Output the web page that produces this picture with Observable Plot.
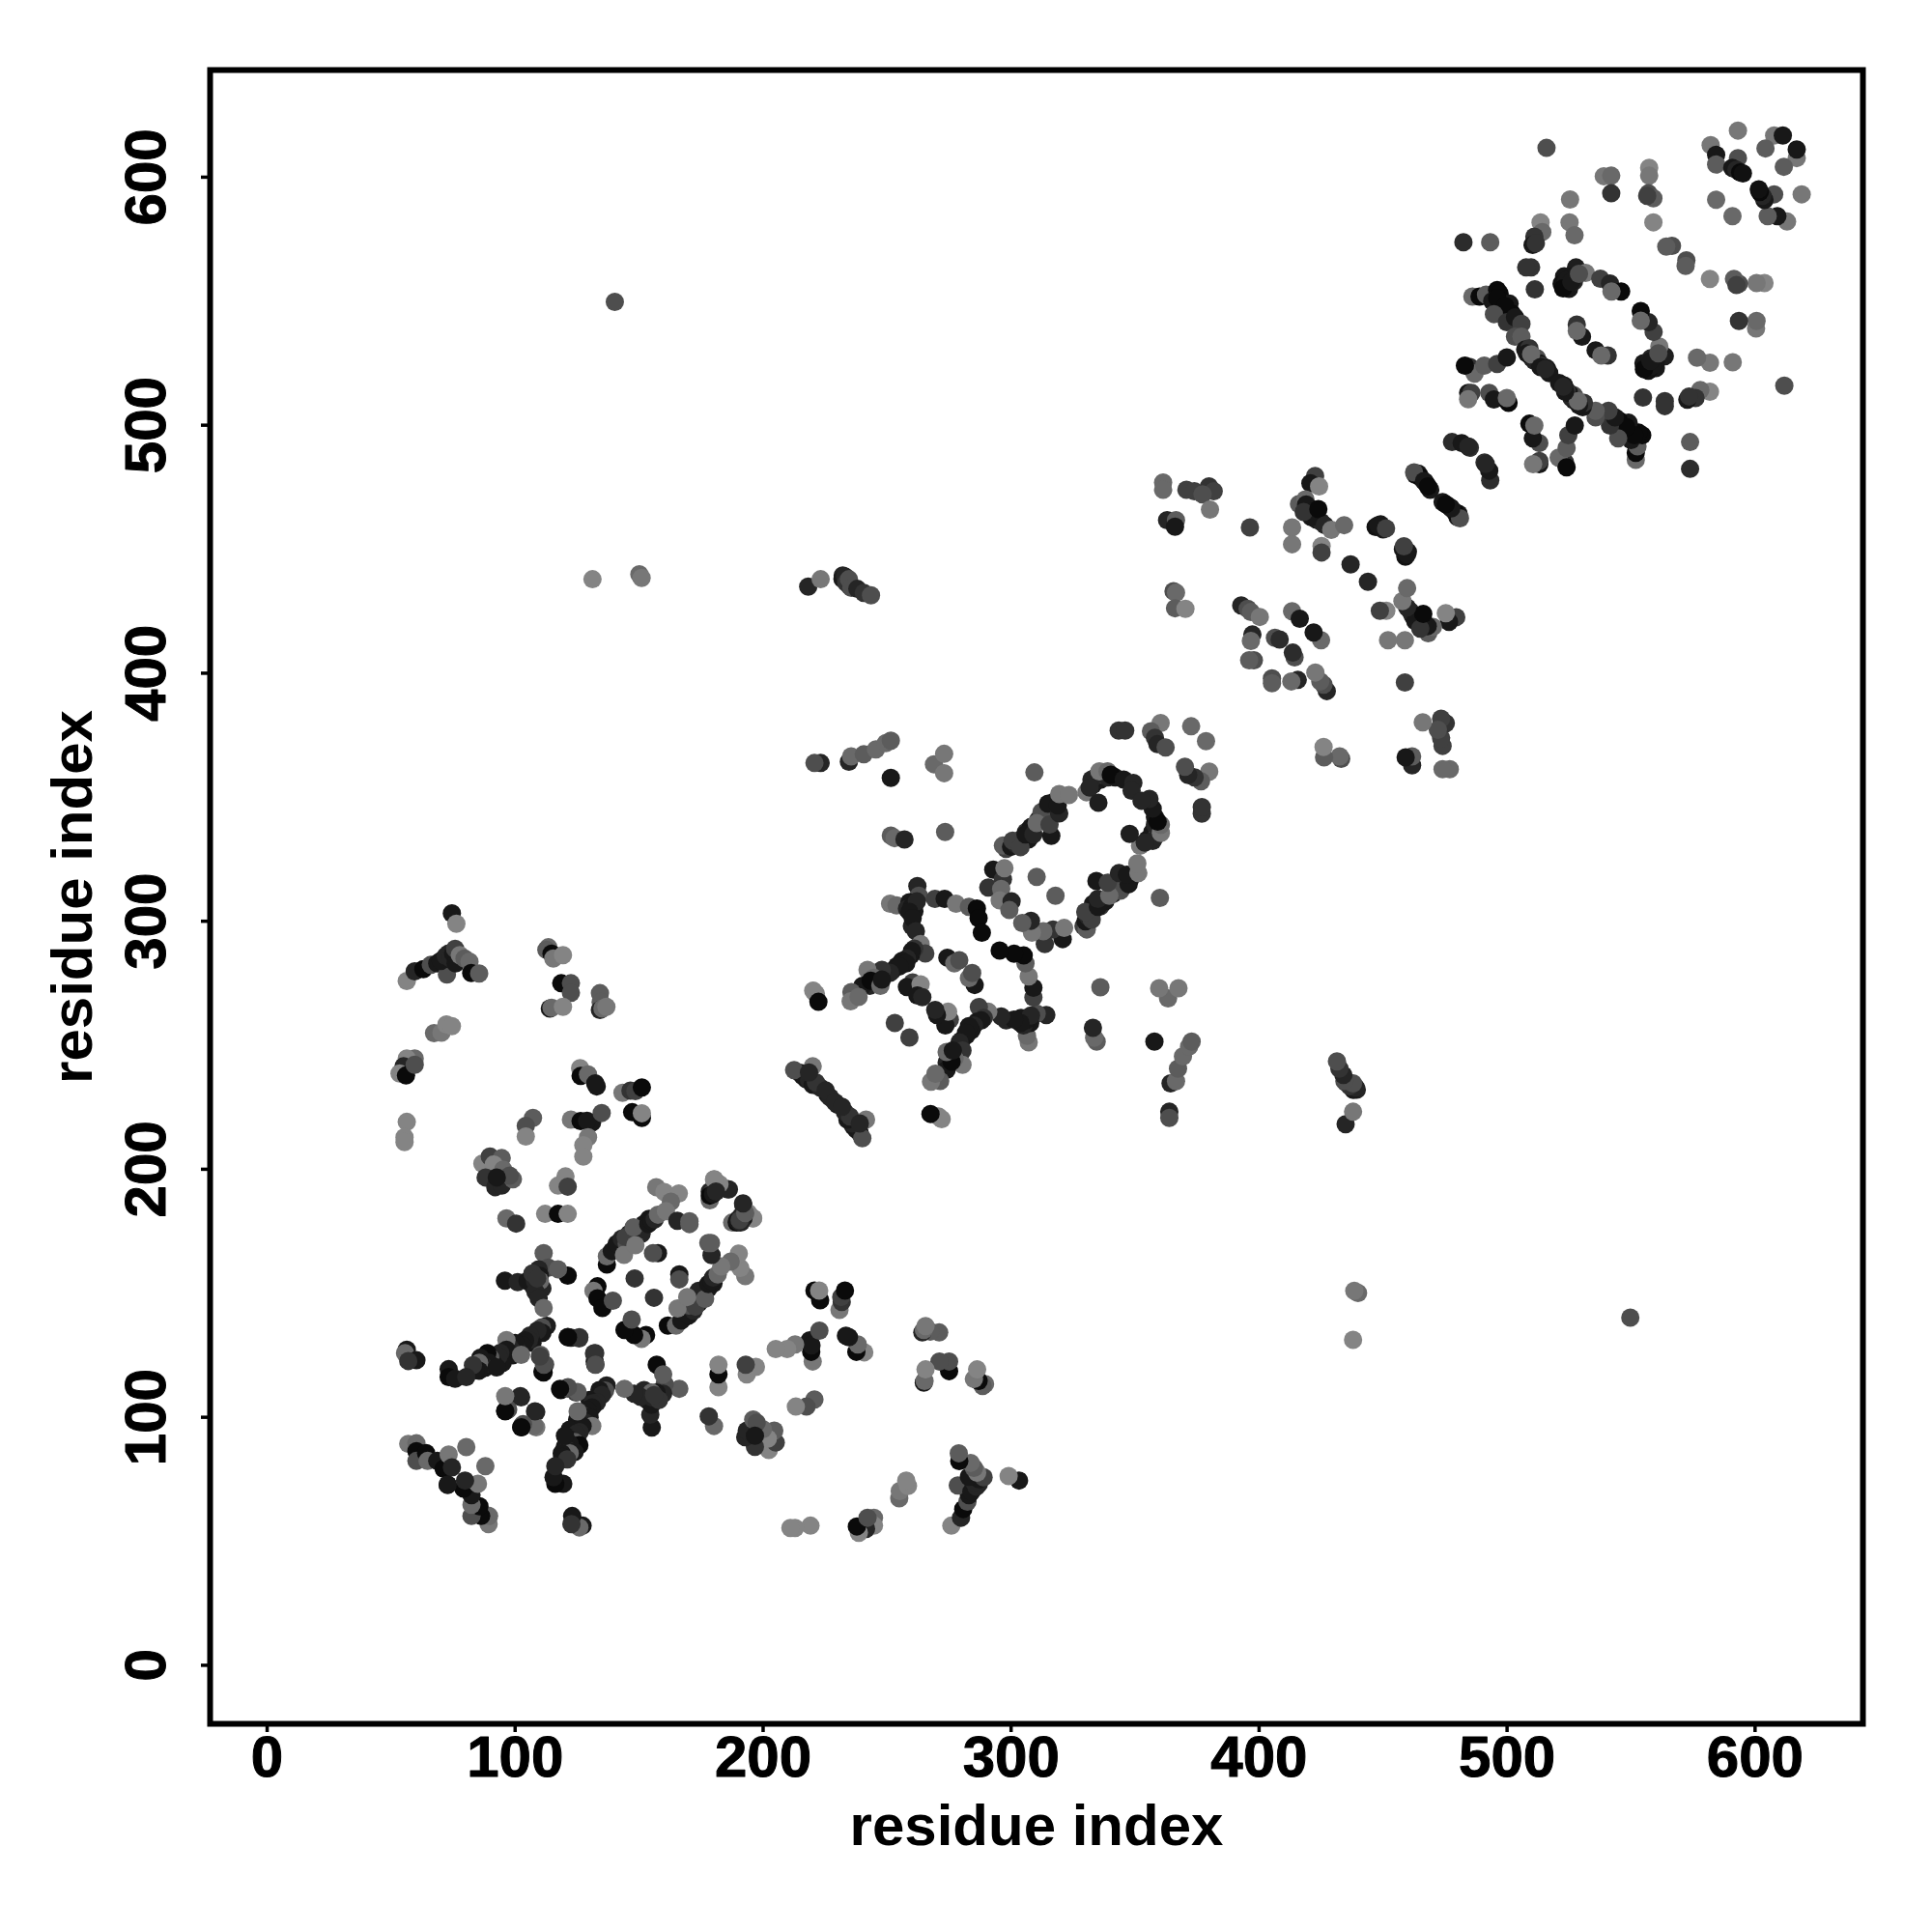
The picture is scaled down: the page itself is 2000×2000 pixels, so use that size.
<!DOCTYPE html>
<html><head><meta charset="utf-8">
<script src="https://cdn.jsdelivr.net/npm/d3@7"></script>
<script src="https://cdn.jsdelivr.net/npm/@observablehq/plot@0.6"></script>
<style>html,body{margin:0;padding:0;background:#fff}svg{display:block}</style>
</head><body><div id="chart"></div>
<script>
// Contacts [residue i, residue j, shade 0 (dark) .. 1 (light)]; the map is symmetric.
const helixA=[[74.5,303.2,.1],[76.3,299,.9],[56.3,275.9,.9],[59.5,279.8,.2],[63,280.7,0],[66,282.4,.5],[68.6,283,.1],[71.9,285,.1],[73.2,287,.2],[72.5,278.5,.5],[75,284,.2],[70,284,.1],[72,286,.2],[74,285,.2],[75,287,.1],[76,283,.1],[75.8,288.9,.4],[77.7,286.3,.8],[79.6,285,.6],[81.6,283.7,.7],[82.3,279.1,0],[85.5,278.9,.6]];
const blockB=[[113.4,289.5,.7],[112.6,288.5,.6],[114.7,286.9,0],[115.4,285,.8],[119.3,286.3,.9],[118.6,275,0],[122.5,275,.5],[122.5,271.1,.5],[114,264.8,.1],[114.7,265.1,.7],[119.3,265.5,.9],[134.2,271,.6],[134.5,267.4,.6],[134.2,264.2,.2],[135.2,264.8,.7],[136.8,265.5,.8]];
const blockC=[[67.3,254.9,.7],[70.3,255.1,.8],[72.3,258.4,.9],[74.5,257.7,.9],[59.5,244.7,.7],[56.3,244.7,.9],[55,241.5,.2],[53.4,238.6,.9],[56,237.8,0],[59.5,242.1,.5],[56.3,219.1,.9],[55.4,212.9,.9],[55.4,211,.9]];
const blockD=[[126.2,240.8,.9],[126.4,237.6,0],[129.4,238.2,.7],[132.3,234.6,.1],[132.9,233.4,.1],[143.3,230.8,.8],[146.5,231.7,.3],[148.5,231.5,.4],[151.1,233,0],[147.2,223,0],[151.1,220.7,0],[151.1,222.6,.9]];
const blockE=[[107.2,220.7,.6],[104.3,217.5,.5],[104.3,213.2,.9],[122.5,220,.8],[126.4,219.4,0],[131,218.8,.1],[129,219.5,.1],[134.9,222.7,.5],[129.4,212.9,.8],[127.5,209.7,.9],[127.5,205.1,.9],[86.8,202.3,.9],[89.8,205.1,.4],[94.6,204.5,.6],[91.4,201.9,.9],[95.2,199.9,.7],[88.1,196.7,.3],[92,192.8,.2],[94.6,193.4,.2],[99.1,196,.6],[97.8,197.4,.5],[92.6,196.7,.1],[117.3,193.4,.9],[120.3,197.1,.9],[121.2,193,.4],[96.5,180.2,.7],[100.4,178.1,.3],[112.1,182,.9],[117.3,182,0],[121.2,182,.9]];
const ringF=[[137,161.6,0],[137,164.9,.7],[140.7,168.8,0],[139,167,.1],[141,170,.1],[143,172,.2],[146,174,.1],[150,176,.3],[152,178,.1],[154,180,.1],[145,170,.5],[151,174,.2],[143.9,165.5,.8],[144.6,172.7,.4],[147.8,176.6,.6],[148.5,169.4,.8],[153.7,177.9,.1],[155,179.2,.1],[156.3,179.8,.2],[157.6,181.7,.7],[156.9,192.8,.8],[160.2,190.8,.9],[166,190.2,.9],[162.8,186.9,.7],[160.8,183.1,.8],[165.4,179.2,.2],[170.3,177.9,.6],[170.3,179,.6],[180.3,196,.9],[179,189.5,.1],[180.3,192.1,.1],[178.5,191,.2],[179.5,190.5,.4],[182.3,192.8,.6],[186.2,191.9,.2],[192,185.6,.2],[194,182.4,.9],[195.9,180.2,.9],[187.5,178.5,.7],[189.4,178.5,0],[190,179.8,.1],[191,181,.2],[157.6,166.2,.1],[155.6,166.2,.5],[148.2,156,.3],[133.2,152.8,0],[131.6,151,.8],[133.2,148,0],[135.2,144.1,0],[139.4,147,.5]];
const armG=[[121.2,157.1,0],[111.5,166.2,.6],[113.4,160.3,.5],[109.5,159.7,.2],[117.3,159.7,.6],[95.9,155.1,.1],[101,154.5,.2],[107,153.2,.2],[105,155,.1],[108,155,.2],[110,157,.1],[107,158,.3],[111,152,.2],[110,155,.7],[108.2,150.6,.2],[109.5,148,.2],[111.5,144.1,.7],[108.9,156,.3],[112.8,136.9,.15],[110.8,136.3,.5],[108.2,133.7,.1],[111,134,.1],[109,135,.2],[107,130,.1],[106,133,.2],[105.6,131.1,.2],[104,131,.1],[103,129.1,.1],[101,127,.2],[100,130,.1],[99,125,.1],[98,128,.2],[96.5,131.1,.8],[96.5,127.2,.1],[102.4,125.2,.7],[95,122,.1],[94,126,.2],[93.3,124.6,.2],[91,122,.1],[90,124,.6],[88.8,125.9,0],[89.4,122,.1],[88,120,.1],[87,121,.2],[86,124,.1],[85.5,122,.7],[85.5,118.8,.1],[84,119,.1],[83,121,.3],[92.6,120.1,.1],[73.2,119.4,.1],[73.2,116.2,0],[75.8,115.5,.1],[80.3,116.2,.2],[56.3,127.2,.1],[55.6,125.9,.7],[60.2,123,.1],[56.9,122.7,.3],[110.2,125.2,.6],[112.1,121.3,.5],[111.5,118.1,0],[122.5,132.1,.1],[125.8,131.8,.3],[121.2,132.4,.5],[132.3,125.9,.3],[132.3,121.3,0],[118.4,111,0],[121.2,111.6,.5],[124.5,110,.4],[96.5,107.7,.7],[102.4,108,.2],[97.2,103.2,.5],[96,102.5,0],[108.5,102.1,.2],[102.8,96.7,.5],[102.5,96,0],[108.5,96,.8]];
const cornerH=[[56.9,89.3,.8],[60.2,89.5,.7],[60.2,86.3,0],[60.2,82.4,.5],[64.1,85.6,0],[64.7,82.4,.7],[68.6,82.4,.1],[71.2,79.2,0],[73.2,85,.8],[74.5,79.8,.2],[80.3,88,.7],[72.8,72.8,.1]];
const knotI=[[262.2,314.2,.2],[262.8,310.3,.5],[251.2,307.1,.8],[253.8,306.4,.7],[259,307.7,.1],[258,305,.2],[260,306,.1],[261,304,.1],[262,308,.2],[260,298,.2],[259,303.8,.1],[260.3,301.2,.1],[261.6,296,.2],[269.3,309,.4],[273.2,309,.1],[277.8,307.1,.8],[283,305.8,.6],[286.2,305.1,0],[286.9,301.2,0],[288.2,295.4,0],[263.5,290.8,.8],[265.4,287,.4],[259.6,286.3,.1],[261,289,.3],[260,288,.1],[258,285,.2],[256,284,.1],[254,282,.1],[252,280,.1],[249,279,.1],[246,278,.6],[245,275,.1],[243,274,.2],[257.7,283,.1],[255,281.8,.1],[251.2,279.2,.2],[247.9,280.4,.3],[242.1,280.4,.8],[244.7,277.2,.7],[240.1,274,.1],[243.4,276,0],[247.3,274,.7],[247.9,276.5,.1],[235.6,271.4,.6],[235.3,267.7,.8],[238.5,269.5,.7],[253.1,259,.4],[274.3,285.3,.1],[277.1,283,.7],[279.1,284.3,.5],[221.3,270.7,.9],[220.2,272,.9],[222.3,267.5,0],[260.3,275.3,.4],[258,273.5,.1],[263.5,274.6,.9],[262.2,270.1,.1],[264.2,269.4,.2]];
const armJ=[[220,241.5,.8],[214.8,238.9,.1],[217.4,236.3,.1],[216,237.5,.1],[218.5,236,.2],[220,234,.1],[223,233,.2],[226,230,.1],[227,229,.2],[221.3,235,.3],[225.2,231.8,.2],[212.5,240,.5],[218.5,239,.2]];
const ringK=[[290.8,313.6,.3],[292.8,320.8,.1],[296.7,316.9,.3],[297.3,321.4,.8],[296,313,.7],[295.4,308.4,.8],[300.2,308,.2],[299.3,304.5,.6],[310.3,317.9,.6],[309.4,360,.6],[298,329.2,.4],[296.7,330.5,.6],[300,330,.1],[302,331,.2],[304,333,.1],[306,336,.3],[307,333,.1],[308,338,.1],[311,341,.2],[313,343,.1],[315,345,.2],[317,348,.1],[300.6,332.5,.4],[303.8,329.9,.4],[305.8,335,.1],[309,335,.2],[312.3,344.1,.5],[310.3,339.6,.7],[316.2,334.4,.1],[315.5,339,.4],[314.9,347.4,.1],[319.4,343.5,.2],[318.8,346.7,.1],[319.4,351.3,.8],[323.3,350.9,.8],[330.4,352,.8],[333,355,.1],[334,358,.3],[336,357,.1],[337,359,.4],[339,358,.2],[342,358,.1],[332.4,357.1,.2],[331.7,353.9,.2],[335.2,347.8,.15],[335.6,360.4,.8],[338.9,360.4,.7],[340.2,359.1,0],[345.4,357.1,.1],[349.3,355.8,.2],[348.6,352.6,.2]];
const blockL=[[343.4,376.9,.3],[346,376.9,.3],[360.3,379.9,.8],[356.4,376.6,.6],[358,374,.3],[359,371.4,.2],[362.3,370.1,.5],[372.6,378.6,.7]];
const blockM=[[223.2,363.8,.2],[220.7,363.8,.5],[234.6,364.3,.2],[235.5,366.5,.7],[240.6,367.3,.6],[245.5,369.3,.7],[249.5,371.8,.7],[251.5,372.8,.6],[251.5,357.8,.1],[268.9,363.3,.7],[273,367.5,.8],[273,359.7,.8],[251.5,334.5,.6],[253,333.5,.7],[257,333,.2],[273.4,336,.6]];
const farN=[[218.2,434.9,.2],[223.2,437.9,.8],[232.1,439.4,.2],[232,438,.1],[233,439,.2],[235,435,.3],[233.5,436.5,.3],[234.6,437.9,.5],[235.6,434.4,.5],[238,434,.2],[240.6,432.4,.3],[243.5,431.4,.5],[131.2,437.9,.9],[150.1,439.9,.7],[151,438.4,.8],[140.2,549.7,.5]];
const blockO=[[361.3,476.9,.7],[361.3,474,.7],[370.7,474,.4],[373.9,473.4,.4],[379.8,475.3,.3],[381.7,473.4,.4],[377.2,472.1,.5],[380.2,466,.8],[362.9,461.7,.2],[366.5,461.7,.6],[366.1,459.1,.1],[396.3,458.8,.4],[413.3,458.8,.8],[413.3,452,.8],[422.6,479.5,.4],[420.7,476.6,.1],[424.2,475.3,.9],[416.1,468.2,.6],[418.7,470.1,.7],[420,466.9,.1],[419,468,.1],[421,465,.1],[422,464,.2],[423,462,.1],[425,461,.2],[421,463,.1],[418,465,.3],[423.9,466.2,0],[426.5,459.7,.2],[429.1,457.8,.8],[434.3,459.7,.7],[425.2,451.3,.9],[425.2,448.7,.4],[436.9,443.9,.2],[447,459,.05],[449,460,.1],[450,458,.1],[448,459.7,.1],[451.2,458.4,.4],[464.2,480.5,.1],[463,480,.1],[465,479,0],[467,477,.05],[469,474,.1],[462.5,481,.5],[466.5,477.5,.1],[468.1,475.3,0]];
const blockP=[[365.5,433.1,.5],[366.5,432.5,.7],[366.1,426.2,.6],[370.3,426,.9],[392.8,427.3,.2],[395.4,426,.5],[396.7,424.7,.6],[400.3,422.7,.8],[397.3,415.6,.2],[396.7,413,.7],[406.4,414.3,.5],[408.3,413.6,.25],[397.9,405.2,.5],[396,405.2,.6],[413.3,425,.7],[416.4,422,.1]];
const helixQ=[[482.4,573.8,.25],[493.2,573.8,.6],[513.5,581.8,.9],[514.2,577.9,.7],[511,576,.3],[510.3,572.7,.1],[511.6,573.4,.3],[509.7,563.6,.3],[507.7,563.6,.3],[511.2,554.8,.3],[525.2,581.8,.8],[527.2,576.6,.7],[559,581.8,.9],[566.5,572.3,.5],[564.2,572,.6],[486,551.9,.7],[488.9,551.9,0],[491.5,552.6,.6],[496,554.5,0],[497,553,0],[498,550,0],[500,546,0],[501,549,.1],[502,545,0],[494,550,.1],[496,551.3,0],[499.3,548,0],[494.7,544.8,.5],[499.9,541.5,.3],[503.2,543.5,.1],[505.8,540.9,.4],[503.2,535.7,.5],[505.8,535.7,.6]];
const ringR=[[527.8,563.6,.15],[523,560,.1],[524,556,.1],[526,560,.1],[525,555,.1],[527,558,.2],[522,557,.05],[523.9,558.4,.1],[522.6,555.2,0],[525.9,557.8,.1],[531.7,561.4,.8],[529,561,.5],[537.6,559.1,.4],[541.5,557.1,.2],[546,553.9,0],[542.1,553.9,.7],[528.1,540.6,.3],[530.2,535.7,.1],[528.1,538,.7],[507.3,530.5,.1],[509,531,.3],[508,529,.1],[510,527,.1],[511,526,.2],[512,527,.5],[513,525,.1],[514,524,.3],[516,523,.1],[517,521,.1],[509.7,528.6,.7],[513.5,523.4,.1],[515.5,522.7,.2],[485,523.4,.3],[486.9,520.8,.7],[483,524,0],[490.8,524,.6],[496,524.7,.4],[499.9,527.3,.1],[484.3,513,.1],[485.6,513,.4],[484.3,510.5,.8],[492.8,513,.5],[494.7,510.4,.1],[500.6,509,0],[499.9,511,.7],[477.8,493.2,.25],[481.7,492.8,.1],[485,490.9,.3],[484.4,491.4,.2]];
const cornerS=[[515.9,611.8,.5],[525.4,591,.8],[582.1,612.9,.8],[584.3,609,.1],[584.3,605.1,.6],[593.1,618.8,.8],[593.1,607.7,.5],[590.8,603.8,.1],[592.5,603,.2],[594,601.9,0],[595.1,601.5,.05],[607.7,616.8,.8],[611.2,616.8,.1],[604.2,611.6,.6],[584.3,590.9,.7],[557.3,603.8,.9],[557.3,600.6,.8],[557,593.5,.5],[559,591.5,.6],[556.5,592.5,.4],[539,600.4,.8],[542,600.6,.7],[542,593.5,.3]];
const xTicks=[0,100,200,300,400,500,600];
const yTicks=[0,100,200,300,400,500,600];
const axisTitle="residue index";

const contacts=[helixA,blockB,blockC,blockD,blockE,ringF,armG,cornerH,knotI,armJ,ringK,blockL,blockM,farN,blockO,blockP,helixQ,ringR,cornerS].flat();
const table=[...contacts.map(([i,j,s])=>({x:i,y:j,s})),...contacts.map(([i,j,s])=>({x:j,y:i,s}))];

const chart=Plot.plot({
  width:2000,height:2000,
  marginLeft:217,marginRight:72,marginTop:72,marginBottom:216,
  style:{fontFamily:"'Liberation Sans',Arial,sans-serif",fontWeight:"bold",color:"#000",background:"#fff"},
  x:{domain:[-23,643.5]},
  y:{domain:[-23.6,643.2]},
  color:{type:"linear",domain:[0,1],range:["#0a0a0a","#929292"]},
  marks:[
    Plot.dot(table,{x:"x",y:"y",fill:"s",r:9.5,stroke:"none"}),
    Plot.frame({stroke:"#000",strokeWidth:6}),
    Plot.axisX({ticks:xTicks,tickSize:9,tickPadding:3,fontSize:60,strokeWidth:3.5,label:null,tickFormat:d=>String(d),textStroke:"#000",textStrokeWidth:1}),
    Plot.axisY({ticks:yTicks,tickSize:9,tickPadding:38,fontSize:60,strokeWidth:3.5,label:null,tickRotate:-90,textAnchor:"middle",tickFormat:d=>String(d),textStroke:"#000",textStrokeWidth:1}),
    Plot.axisX({ticks:[],tickSize:0,fontSize:60,label:axisTitle,labelAnchor:"center",labelArrow:"none",labelOffset:125,textStroke:"#000",textStrokeWidth:.7}),
    Plot.axisY({ticks:[],tickSize:0,fontSize:60,label:axisTitle,labelAnchor:"center",labelArrow:"none",labelOffset:165,textStroke:"#000",textStrokeWidth:.7})
  ]
});
document.getElementById("chart").appendChild(chart);
</script></body></html>
